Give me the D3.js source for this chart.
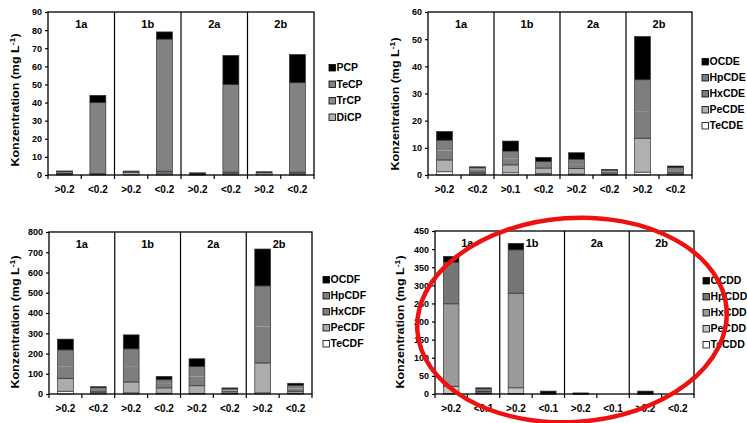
<!DOCTYPE html>
<html>
<head>
<meta charset="utf-8">
<script src="https://cdn.jsdelivr.net/npm/d3@7"></script>
<style>
  html, body { margin: 0; padding: 0; background: #fff; }
  svg { display: block; }
  text { font-family: Arial, "Liberation Sans", sans-serif; }
</style>
</head>
<body>
<svg id="chart" width="747" height="423"></svg>
<script>
// ---------- DATA ----------
const groups = ["1a", "1b", "2a", "2b"];

const ticksCP  = [">0.2", "<0.2", ">0.2", "<0.2", ">0.2", "<0.2", ">0.2", "<0.2"];
const ticksCDE = [">0.2", "<0.2", ">0.1", "<0.2", ">0.2", "<0.2", ">0.2", "<0.2"];
const ticksCDF = [">0.2", "<0.2", ">0.2", "<0.2", ">0.2", "<0.2", ">0.2", "<0.2"];
const ticksCDD = [">0.2", "<0.1", ">0.2", "<0.1", ">0.2", "<0.1", ">0.2", "<0.2"];

// Chlorophenols (bottom -> top: DiCP, TrCP, TeCP, PCP)
const cpNames = ["PCP", "TeCP", "TrCP", "DiCP"];
const cpDiCP = [0.5, 0.3, 1.5, 1.0, 0.2, 0.7, 1.2, 0.7];
const cpTrCP = [0.3, 0.4, 0.2, 1.0, 0.2, 0.8, 0.3, 0.8];
const cpTeCP = [1.2, 39.3, 0.5, 73, 0.3, 48.5, 0.3, 49.5];
const cpPCP  = [0.2, 4, 0, 4, 0.5, 16, 0, 15.5];
const cpTicks = [0, 10, 20, 30, 40, 50, 60, 70, 80, 90];

// Chlorinated diphenyl ethers
const cdeNames = ["OCDE", "HpCDE", "HxCDE", "PeCDE", "TeCDE"];
const TeCDE = [1.2, 0.5, 0.8, 0.5, 0.3, 0.2, 1.0, 0.3];
const PeCDE = [4.3, 0.5, 2.9, 2.0, 2.1, 0.5, 12.5, 0.4];
const HxCDE = [3.5, 1.0, 2.3, 1.2, 1.6, 0.6, 10, 0.8];
const HpCDE = [3.8, 0.8, 2.8, 1.3, 1.8, 0.5, 11.6, 1.3];
const OCDE  = [3.2, 0.2, 3.7, 1.5, 2.4, 0.2, 15.9, 0.5];
const cdeTicks = [0, 10, 20, 30, 40, 50, 60];

// Dibenzofurans
const cdfNames = ["OCDF", "HpCDF", "HxCDF", "PeCDF", "TeCDF"];
const TeCDF = [13, 5, 5, 3, 2, 2, 5, 3];
const PeCDF = [64, 5, 54, 27, 39, 8, 148, 10];
const HxCDF = [60, 10, 75, 20, 45, 8, 180, 14];
const HpCDF = [81, 12, 89, 21, 50, 8, 201, 16];
const OCDF  = [53, 4, 69, 16, 38, 4, 182, 10];
const cdfTicks = [0, 100, 200, 300, 400, 500, 600, 700, 800];

// Dibenzo-p-dioxins
const cddNames = ["OCDD", "HpCDD", "HxCDD", "PeCDD", "TeCDD"];
const TeCDD = [1, 1, 1, 0.2, 0.1, 0, 0.1, 0];
const PeCDD = [20, 2, 16, 0.3, 0.1, 0, 0.2, 0];
const HxCDD = [228, 4, 261, 0.5, 0.3, 0, 0.5, 0];
const HpCDD = [115, 8, 120, 1, 0.5, 0, 1.2, 0];
const OCDD  = [16, 2, 18, 6, 2, 0, 6, 0];
const cddTicks = [0, 50, 100, 150, 200, 250, 300, 350, 400, 450];

// ---------- DRAWING ----------
const svg = d3.select("#chart");
svg.append("rect").attr("width", 747).attr("height", 423).attr("fill", "#fff");

function drawPanel(p) {
  const g = svg.append("g");
  const cats = d3.range(8);
  const x = d3.scaleBand().domain(cats).range([p.x0, p.x1]).padding(0);
  const y = d3.scaleLinear().domain([0, p.max]).range([p.y1, p.y0]);

  const rows = cats.map(i => {
    const r = { i };
    p.series.forEach((s, k) => r["s" + k] = s[i]);
    return r;
  });
  const keys = p.series.map((s, k) => "s" + k);
  const stacked = d3.stack().keys(keys)(rows);
  const totals = cats.map(i => d3.sum(p.series, s => s[i]));

  const bw = x.bandwidth() * 0.48;
  const bx = i => x(i) + (x.bandwidth() - bw) / 2;

  stacked.forEach((layer, k) => {
    g.selectAll(null).data(layer).enter().append("rect")
      .attr("x", d => bx(d.data.i))
      .attr("y", d => y(d[1]))
      .attr("width", bw)
      .attr("height", d => Math.max(0, y(d[0]) - y(d[1])))
      .attr("fill", p.colors[k]);
  });
  // visible segment boundaries
  p.lines.forEach(k => {
    g.selectAll(null).data(stacked[k].filter(d => d[1] > 0 && d[1] < totals[d.data.i] - 1e-9))
      .enter().append("line")
      .attr("x1", d => bx(d.data.i)).attr("x2", d => bx(d.data.i) + bw)
      .attr("y1", d => y(d[1])).attr("y2", d => y(d[1]))
      .attr("stroke", "#222").attr("stroke-width", 0.8);
  });
  // bar outlines
  g.selectAll(null).data(cats.filter(i => totals[i] > 0)).enter().append("rect")
    .attr("x", i => bx(i)).attr("y", i => y(totals[i]))
    .attr("width", bw).attr("height", i => y(0) - y(totals[i]))
    .attr("fill", "none").attr("stroke", "#333").attr("stroke-width", 0.7);

  // frame
  g.append("rect").attr("x", p.x0).attr("y", p.y0)
    .attr("width", p.x1 - p.x0).attr("height", p.y1 - p.y0)
    .attr("fill", "none").attr("stroke", "#000").attr("stroke-width", 1.3);

  // group dividers
  [2, 4, 6].forEach(i => {
    g.append("line").attr("x1", x(i)).attr("x2", x(i))
      .attr("y1", p.y0).attr("y2", p.y1)
      .attr("stroke", "#000").attr("stroke-width", 1.2);
  });

  // group labels
  groups.forEach((lab, gi) => {
    g.append("text").attr("x", x(gi * 2) + x.bandwidth())
      .attr("y", p.y0 + 16).attr("text-anchor", "middle")
      .attr("font-size", 11).attr("font-weight", "bold").text(lab);
  });

  // y axis
  const ya = d3.axisLeft(y).tickValues(p.ticks).tickSize(3).tickPadding(3).tickFormat(d3.format("d"));
  const yg = g.append("g").attr("transform", `translate(${p.x0},0)`).call(ya);
  yg.select(".domain").remove();
  yg.selectAll("line").attr("stroke", "#000").attr("stroke-width", 1.2);
  yg.selectAll("text").attr("font-size", 9).attr("font-weight", "bold")
    .attr("font-family", "Arial, 'Liberation Sans', sans-serif").attr("fill", "#000");

  // x axis ticks at band edges
  d3.range(9).forEach(i => {
    const xx = i < 8 ? x(i) : p.x1;
    g.append("line").attr("x1", xx).attr("x2", xx)
      .attr("y1", p.y1).attr("y2", p.y1 + 4)
      .attr("stroke", "#000").attr("stroke-width", 1.2);
  });
  cats.forEach(i => {
    g.append("text").attr("x", x(i) + x.bandwidth() / 2).attr("y", p.y1 + 18)
      .attr("text-anchor", "middle").attr("font-size", 10).attr("font-weight", "bold")
      .text(p.xlabels[i]);
  });

  // y title (stretched along its length like the scanned original)
  const t = g.append("text")
    .attr("transform", `translate(${p.titleX},${p.titleY}) rotate(-90) scale(1.25,1)`)
    .attr("text-anchor", "middle").attr("font-size", 10).attr("font-weight", "bold");
  t.append("tspan").text("Konzentration (mg L");
  t.append("tspan").attr("dy", -4).attr("font-size", 7).text("-1");
  t.append("tspan").attr("dy", 4).text(")");

  // legend (top -> bottom)
  p.names.forEach((nm, k) => {
    const col = p.colors[p.series.length - 1 - k];
    const ly = p.legY + k * p.legStep;
    g.append("rect").attr("x", p.legX).attr("y", ly - 6.5).attr("width", 6.5).attr("height", 6.5)
      .attr("fill", col).attr("stroke", "#000").attr("stroke-width", 0.8);
    g.append("text").attr("x", p.legX + 7.5).attr("y", ly)
      .attr("font-size", 10.5).attr("font-weight", "bold").text(nm);
  });
}

drawPanel({
  x0: 48, x1: 314, y0: 12, y1: 175, max: 90, ticks: cpTicks,
  series: [cpDiCP, cpTrCP, cpTeCP, cpPCP],
  colors: ["#b4b4b4", "#8c8c8c", "#828282", "#000000"],
  lines: [0, 1, 2],
  names: cpNames, xlabels: ticksCP,
  titleX: 19, titleY: 100, legX: 329, legY: 71, legStep: 16.5
});
drawPanel({
  x0: 428, x1: 692, y0: 12, y1: 175, max: 60, ticks: cdeTicks,
  series: [TeCDE, PeCDE, HxCDE, HpCDE, OCDE],
  colors: ["#ffffff", "#b0b0b0", "#7e7e7e", "#7e7e7e", "#000000"],
  lines: [0, 1, 3],
  names: cdeNames, xlabels: ticksCDE,
  titleX: 399, titleY: 104, legX: 702, legY: 65, legStep: 16
});
drawPanel({
  x0: 49, x1: 312, y0: 232, y1: 394, max: 800, ticks: cdfTicks,
  series: [TeCDF, PeCDF, HxCDF, HpCDF, OCDF],
  colors: ["#ffffff", "#acacac", "#7e7e7e", "#7e7e7e", "#000000"],
  lines: [0, 1, 3],
  names: cdfNames, xlabels: ticksCDF,
  titleX: 19, titleY: 322, legX: 323, legY: 283, legStep: 16
});
drawPanel({
  x0: 435, x1: 694, y0: 231, y1: 394, max: 450, ticks: cddTicks,
  series: [TeCDD, PeCDD, HxCDD, HpCDD, OCDD],
  colors: ["#ffffff", "#c4c4c4", "#9a9a9a", "#767676", "#000000"],
  lines: [0, 1, 2, 3],
  names: cddNames, xlabels: ticksCDD,
  titleX: 404, titleY: 322, legX: 703, legY: 284, legStep: 16
});

// red hand-drawn ellipse highlight
svg.append("ellipse")
  .attr("cx", 572).attr("cy", 320).attr("rx", 155).attr("ry", 102)
  .attr("transform", "rotate(-4 572 320)")
  .attr("fill", "none").attr("stroke", "#ee1111").attr("stroke-width", 4.5);
</script>
</body>
</html>
